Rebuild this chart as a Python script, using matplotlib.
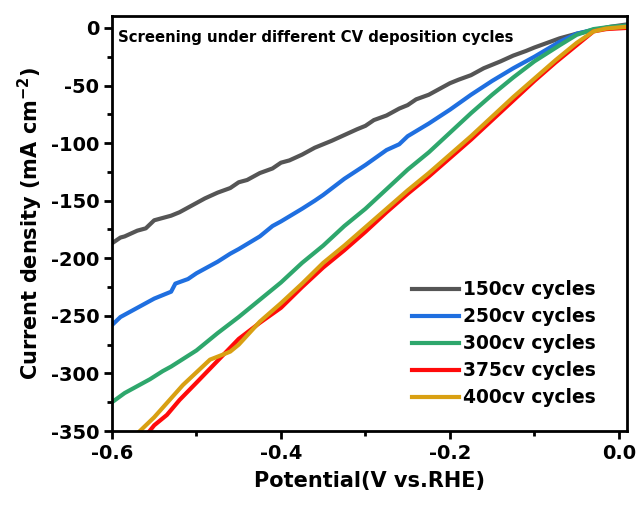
import matplotlib
matplotlib.use("Agg")
import matplotlib.pyplot as plt
from matplotlib.ticker import MultipleLocator

plt.rcParams['font.family'] = ['DejaVu Sans']
plt.rcParams['font.weight'] = 'bold'
plt.rcParams['mathtext.fontset'] = 'dejavusans'

labels = ["150cv cycles", "250cv cycles", "300cv cycles", "375cv cycles", "400cv cycles"]
colors = ["#555555", "#1f6fe0", "#2ea76c", "#ff0a0a", "#d9a012"]

x150 = [-0.6, -0.59, -0.585, -0.57, -0.56, -0.55, -0.53, -0.52, -0.51, -0.5, -0.49, -0.475, -0.46,
        -0.45, -0.44, -0.425, -0.41, -0.4, -0.39, -0.375, -0.36, -0.35, -0.34, -0.325, -0.31,
        -0.3, -0.29, -0.275, -0.26, -0.25, -0.24, -0.225, -0.21, -0.2, -0.19, -0.175, -0.16,
        -0.15, -0.14, -0.125, -0.11, -0.1, -0.085, -0.07, -0.05, -0.03, -0.01, 0.009]
y150 = [-187, -182, -181, -176, -174, -167, -163, -160, -156, -152, -148, -143, -139,
        -134, -132, -126, -122, -117, -115, -110, -104, -101, -98, -93, -88,
        -85, -80, -76, -70, -67, -62, -58, -52, -48, -45, -41, -35,
        -32, -29, -24, -20, -17, -13, -9, -5, -2, 1, 3]

x250 = [-0.6, -0.59, -0.585, -0.57, -0.55, -0.54, -0.53, -0.525, -0.51, -0.5, -0.475, -0.46,
        -0.45, -0.425, -0.41, -0.4, -0.375, -0.36, -0.35, -0.325, -0.3, -0.275, -0.26,
        -0.25, -0.225, -0.2, -0.175, -0.15, -0.125, -0.1,
        -0.07, -0.05, -0.03, -0.01, 0.009]
y250 = [-258, -251, -249, -243, -235, -232, -229, -222, -218, -213, -203, -196,
        -192, -181, -172, -168, -157, -150, -145, -131, -119, -106, -101,
        -94, -83, -71, -58, -46, -35, -25,
        -12, -5, -1.5, 0.5, 2]

x300 = [-0.6, -0.585, -0.57, -0.555, -0.54, -0.53, -0.515, -0.5, -0.475, -0.45, -0.425, -0.4,
        -0.375, -0.35, -0.325, -0.3, -0.275, -0.25, -0.225, -0.2, -0.175, -0.15, -0.125,
        -0.1, -0.07, -0.05, -0.03, -0.01, 0.009]
y300 = [-325, -317, -311, -305, -298, -294, -287, -280, -265, -251, -236, -221,
        -204, -189, -172, -157, -140, -123, -108, -91, -74, -58, -43,
        -29, -15, -6, -1, 1, 2]

x375 = [-0.56, -0.55, -0.535, -0.52, -0.5, -0.475, -0.45, -0.425, -0.4, -0.375,
        -0.35, -0.325, -0.3, -0.275, -0.25, -0.225, -0.2, -0.175, -0.15, -0.125, -0.1,
        -0.075, -0.05, -0.03, -0.015, 0.009]
y375 = [-354, -345, -336, -323, -308, -289, -270, -256, -243, -225,
        -208, -193, -177, -160, -144, -129, -113, -97, -80, -63, -46,
        -30, -15, -3, -1, 0]

x400 = [-0.567, -0.55, -0.516, -0.5, -0.484, -0.47, -0.46, -0.45, -0.425, -0.4, -0.375,
        -0.35, -0.325, -0.3, -0.275, -0.25, -0.225, -0.2, -0.175, -0.15, -0.125, -0.1,
        -0.075, -0.05, -0.03, -0.015, 0.009]
y400 = [-350, -338, -310, -299, -288, -284, -281, -275, -255, -239, -222,
        -204, -189, -173, -157, -141, -126, -110, -94, -77, -60, -44,
        -28, -13, -3, -0.5, 1]

xs = [x150, x250, x300, x375, x400]
ys = [y150, y250, y300, y375, y400]

fig = plt.figure(figsize=(6.41, 5.15), dpi=100)
ax = fig.add_axes([0.1747, 0.163, 0.8033, 0.806])

for x, y, c, lab in zip(xs, ys, colors, labels):
    ax.plot(x, y, color=c, lw=3, label=lab)

ax.set_xlim(-0.6, 0.0095)
ax.set_ylim(-350, 10.4)
ax.xaxis.set_minor_locator(MultipleLocator(0.1))
ax.yaxis.set_minor_locator(MultipleLocator(25))
ax.set_xticks([-0.6, -0.4, -0.2, 0.0])
ax.set_xticklabels(["-0.6", "-0.4", "-0.2", "0.0"])
ax.set_yticks([0, -50, -100, -150, -200, -250, -300, -350])
ax.set_yticklabels(["0", "-50", "-100", "-150", "-200", "-250", "-300", "-350"])
ax.tick_params(which='major', direction='out', length=6, width=2, labelsize=14, pad=3)
ax.tick_params(which='minor', direction='out', length=3.5, width=2)
for lab in ax.get_xticklabels() + ax.get_yticklabels():
    lab.set_fontweight('bold')
for s in ax.spines.values():
    s.set_linewidth(2)

ax.set_xlabel("Potential(V vs.RHE)", fontsize=15, fontweight='bold', labelpad=6)
ax.set_ylabel(r"Current density (mA cm$^{\mathbf{-2}}$)", fontsize=15, fontweight='bold', labelpad=4)

ax.text(0.012, 0.967, "Screening under different CV deposition cycles", transform=ax.transAxes,
        fontsize=10.7, fontweight='bold', va='top', ha='left')

leg = ax.legend(loc='lower right', bbox_to_anchor=(0.962, 0.03), frameon=False, fontsize=13.4,
                handlelength=2.5, handletextpad=0.25, labelspacing=0.43, borderaxespad=0.2)
for t in leg.get_texts():
    t.set_fontweight('bold')

fig.savefig("out.png", dpi=100)
